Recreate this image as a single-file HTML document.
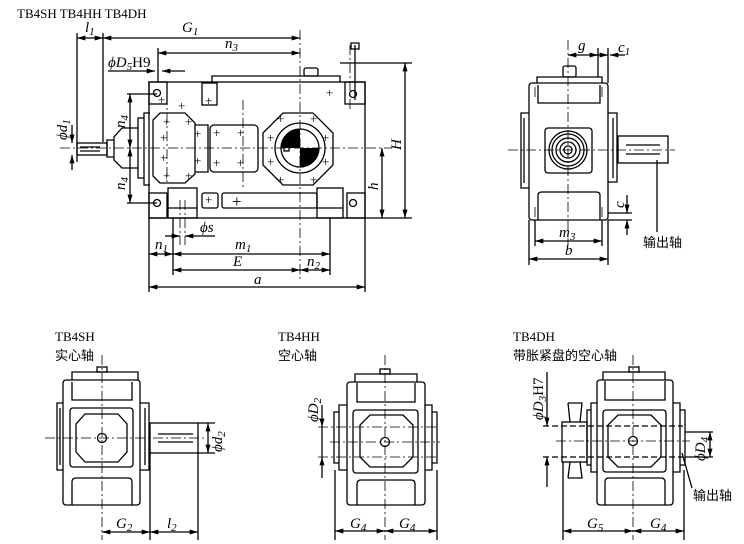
<!DOCTYPE html>
<html><head><meta charset="utf-8"><style>
html,body{margin:0;padding:0;background:#fff}
svg{display:block}
text{font-family:"Liberation Serif","Noto Serif CJK SC",serif;fill:#000}
.d{font-style:italic;font-size:15px}
.t{font-size:13px}
.c{font-family:"Liberation Sans","Noto Sans CJK SC",sans-serif;font-size:13px}
</style></head><body>
<svg width="744" height="544" viewBox="0 0 744 544" xmlns="http://www.w3.org/2000/svg">
<defs>
<marker id="a" viewBox="0 0 10 6" refX="10" refY="3" markerWidth="9" markerHeight="5" orient="auto-start-reverse" markerUnits="userSpaceOnUse"><path d="M0,0L10,3L0,6z" fill="#000"/></marker>
</defs>
<g fill="none" stroke="#000" stroke-width="1.3">
<rect x="149" y="82" width="216" height="136"/>
<path d="M212,82V76H340V82"/>
<rect x="304" y="68" width="14" height="8" rx="2"/>
<path d="M355,45V100M351,43h8v6h-8z"/>
<rect x="202" y="83" width="15" height="22"/>
<rect x="149" y="82" width="18" height="22"/><circle cx="157" cy="93" r="3.5"/>
<rect x="345" y="82" width="20" height="22"/><circle cx="353" cy="94" r="3.5"/>
<rect x="149" y="193" width="18" height="25"/><circle cx="157" cy="203" r="3.5"/>
<rect x="347" y="193" width="18" height="25"/><circle cx="353" cy="203" r="3.5"/>
<path d="M160,113H185L195,123V174L185,183H160L153,176V120Z"/>
<path d="M195,125H208V172H195"/>
<rect x="210" y="125" width="48" height="47" rx="4"/>
<path d="M263,133L283,113H313L333,133V165L313,185H283L263,165Z"/>
<circle cx="300" cy="148" r="25"/><circle cx="300" cy="148" r="19"/>
<rect x="284" y="145" width="5" height="6"/>
<path d="M150,113H144V185H150M144,118H138V178H144"/>
<path d="M138,128H122L114,137V160L122,168H138"/>
<path d="M114,140H107V157H114"/>
<rect x="77" y="143" width="30" height="12"/>
<path d="M80,147H100M80,151H100"/>
<rect x="168" y="188" width="29" height="30"/><path d="M168,208H197"/>
<rect x="202" y="193" width="16" height="15" rx="2"/>
<rect x="222" y="193" width="95" height="15" rx="2"/>
<rect x="317" y="188" width="26" height="30"/><path d="M317,208H343"/>
<path d="M60,148H392M300,30V280M167,95V185M243,100V190M180,200V245M185,200V245M350,45V110" stroke-dasharray="10,3,2,3" stroke-width="0.8"/>
<path d="M77,33V162M103,33V142M158,48V82M340,63H412M365,218H412M127,94H157M127,203H157"/>
<path d="M149,218V292M173,218V275M330,218V275M365,218V292"/>
<path d="M77,38H103" marker-start="url(#a)" marker-end="url(#a)"/>
<path d="M103,38H300" marker-start="url(#a)" marker-end="url(#a)"/>
<path d="M158,53H300" marker-start="url(#a)" marker-end="url(#a)"/>
<path d="M108,71H155" marker-end="url(#a)"/><path d="M185,71H162" marker-end="url(#a)"/>
<path d="M405,63V218" marker-start="url(#a)" marker-end="url(#a)"/>
<path d="M382,148V218" marker-start="url(#a)" marker-end="url(#a)"/>
<path d="M130,94V148" marker-start="url(#a)" marker-end="url(#a)"/>
<path d="M130,148V203" marker-start="url(#a)" marker-end="url(#a)"/>
<path d="M72,125V143" marker-end="url(#a)"/><path d="M72,170V155" marker-end="url(#a)"/>
<path d="M165,236H180" marker-end="url(#a)"/><path d="M215,236H185" marker-end="url(#a)"/>
<path d="M149,254H173" marker-start="url(#a)" marker-end="url(#a)"/>
<path d="M173,254H330" marker-start="url(#a)" marker-end="url(#a)"/>
<path d="M173,270H300" marker-start="url(#a)" marker-end="url(#a)"/>
<path d="M300,270H330" marker-start="url(#a)" marker-end="url(#a)"/>
<path d="M149,287H365" marker-start="url(#a)" marker-end="url(#a)"/>
<rect x="529" y="83" width="79" height="137" rx="3"/>
<path d="M537,83V77H602V83"/><rect x="563" y="66" width="13" height="11" rx="2"/>
<path d="M538,85V103H600V85"/>
<path d="M538,220V195Q538,192 542,192H596Q600,192 600,195V220"/>
<path d="M529,113H521V188H529M524,118V183"/>
<path d="M608,113H617V182H608M613,118V178"/>
<rect x="618" y="136" width="50" height="27"/>
<path d="M626,145H660M626,154H660"/>
<rect x="545" y="128" width="47" height="45" rx="3"/>
<circle cx="568" cy="150" r="4"/><circle cx="568" cy="150" r="8"/><circle cx="568" cy="150" r="12"/><circle cx="568" cy="150" r="16"/><circle cx="568" cy="150" r="19"/>
<path d="M568,40V245M508,150H675M535,87V100M602,87V100M535,207V218M602,207V218" stroke-dasharray="10,3,2,3" stroke-width="0.8"/>
<path d="M598,48V77M608,48V83M529,220V265M608,220V265M535,220V246M602,220V246M608,213H632M608,220H632M657,160V232"/>
<path d="M568,55H598" marker-start="url(#a)" marker-end="url(#a)"/>
<path d="M595,55H608" marker-end="url(#a)"/><path d="M625,55H610" marker-end="url(#a)"/>
<path d="M627,195V213" marker-end="url(#a)"/><path d="M627,235V220" marker-end="url(#a)"/>
<path d="M535,241H602" marker-start="url(#a)" marker-end="url(#a)"/>
<path d="M529,259H608" marker-start="url(#a)" marker-end="url(#a)"/>
<rect x="63" y="380" width="77" height="125" rx="3"/>
<path d="M72,380V372H138V380"/><rect x="97" y="367" width="10" height="5"/>
<path d="M72,382V400H132V382M72,505V482Q72,478 76,478H128Q132,478 132,482V505"/>
<path d="M63,403H57V470H63M60,408V465M140,403H149V470H140M145,408V465"/>
<rect x="70" y="408" width="63" height="59" rx="3"/>
<path d="M85,414H118L127,424V452L118,462H85L76,452V424Z"/>
<circle cx="102" cy="438" r="4.5"/>
<rect x="150" y="423" width="48" height="30"/>
<path d="M158,434H193M158,442H193"/>
<path d="M102,355V540M45,438H205" stroke-dasharray="10,3,2,3" stroke-width="0.8"/>
<path d="M150,453V540M198,453V540M198,423H215M198,453H215"/>
<path d="M102,532H150" marker-start="url(#a)" marker-end="url(#a)"/>
<path d="M150,532H198" marker-start="url(#a)" marker-end="url(#a)"/>
<path d="M208,423V453" marker-start="url(#a)" marker-end="url(#a)"/>
<rect x="347" y="382" width="78" height="123" rx="3"/>
<path d="M355,382V374H417V382"/><rect x="380" y="369" width="10" height="5"/>
<path d="M357,383V402H415V383M357,505V484Q357,480 361,480H411Q415,480 415,484V505"/>
<path d="M347,405H339V470H347M339,412H334V463H339M425,405H432V470H425M432,412H437V463H432"/>
<rect x="353" y="410" width="65" height="63" rx="3"/>
<path d="M370,415H403L413,425V457L403,467H370L360,457V425Z"/>
<circle cx="385" cy="442" r="4.5"/>
<path d="M318,427H438M318,457H438M385,355V540M330,442H440" stroke-dasharray="10,3,2,3" stroke-width="0.8"/>
<path d="M335,470V540M437,470V540"/>
<path d="M322,405V427" marker-end="url(#a)"/><path d="M322,478V457" marker-end="url(#a)"/>
<path d="M322,427V457"/>
<path d="M335,531H385" marker-start="url(#a)" marker-end="url(#a)"/>
<path d="M385,531H437" marker-start="url(#a)" marker-end="url(#a)"/>
<rect x="597" y="380" width="76" height="125" rx="3"/>
<path d="M603,380V372H665V380"/><rect x="629" y="367" width="10" height="5"/>
<path d="M605,381V400H665V381M605,505V482Q605,478 609,478H661Q665,478 665,482V505"/>
<path d="M597,403H591V472H597M591,410H587V465H591M673,403H680V472H673M680,410H685V465H680"/>
<rect x="603" y="410" width="63" height="62" rx="3"/>
<path d="M618,415H651L661,425V457L651,467H618L608,457V425Z"/>
<circle cx="633" cy="441" r="4.5"/>
<rect x="562" y="422" width="25" height="40"/>
<path d="M568,403H582L580,422M568,403L570,422M568,478H582L580,462M568,478L570,462"/>
<path d="M543,426H683M543,457H683" stroke-dasharray="6,3"/>
<path d="M633,355V540M556,441H690" stroke-dasharray="10,3,2,3" stroke-width="0.8"/>
<path d="M563,462V540M684,470V540M685,432H713M685,457H713M682,453L692,488"/>
<path d="M547,372V426" marker-end="url(#a)"/><path d="M547,487V457" marker-end="url(#a)"/>
<path d="M710,432V457" marker-start="url(#a)" marker-end="url(#a)"/>
<path d="M563,531H633" marker-start="url(#a)" marker-end="url(#a)"/>
<path d="M633,531H684" marker-start="url(#a)" marker-end="url(#a)"/>
</g>
<path d="M300,148V129A19,19 0 0,0 281,148Z" fill="#000"/>
<path d="M300,148V167A19,19 0 0,0 319,148Z" fill="#000"/>
<g font-size="13" font-family="Liberation Sans">
<text x="158" y="104">+</text><text x="178" y="110">+</text><text x="163" y="126">+</text><text x="185" y="126">+</text>
<text x="160" y="142">+</text><text x="160" y="162">+</text><text x="163" y="180">+</text><text x="185" y="180">+</text>
<text x="194" y="138">+</text><text x="194" y="165">+</text><text x="213" y="137">+</text><text x="237" y="137">+</text>
<text x="213" y="167">+</text><text x="237" y="167">+</text><text x="267" y="142">+</text><text x="322" y="142">+</text>
<text x="277" y="123">+</text><text x="310" y="123">+</text><text x="267" y="166">+</text><text x="322" y="166">+</text>
<text x="277" y="184">+</text><text x="310" y="184">+</text><text x="326" y="97">+</text><text x="205" y="105">+</text>
<text x="205" y="204">+</text><text x="232" y="207" font-size="17">+</text>
</g>
<text class="t" x="17" y="18">TB4SH TB4HH TB4DH</text>
<text class="d" x="85" y="32">l<tspan font-size="11" dy="3">1</tspan></text>
<text class="d" x="182" y="32">G<tspan font-size="11" dy="3">1</tspan></text>
<text class="d" x="225" y="48">n<tspan font-size="11" dy="3">3</tspan></text>
<text class="d" x="108" y="67">ϕD<tspan font-size="11" dy="3">5</tspan><tspan dy="-3" font-style="normal">H9</tspan></text>
<text class="d" transform="translate(67,140) rotate(-90)">ϕd<tspan font-size="11" dy="3">1</tspan></text>
<text class="d" transform="translate(125,128) rotate(-90)">n<tspan font-size="11" dy="3">4</tspan></text>
<text class="d" transform="translate(125,190) rotate(-90)">n<tspan font-size="11" dy="3">4</tspan></text>
<text class="d" transform="translate(401,150) rotate(-90)">H</text>
<text class="d" transform="translate(378,190) rotate(-90)">h</text>
<text class="d" x="200" y="232">ϕs</text>
<text class="d" x="155" y="249">n<tspan font-size="11" dy="3">1</tspan></text>
<text class="d" x="235" y="249">m<tspan font-size="11" dy="3">1</tspan></text>
<text class="d" x="233" y="266">E</text>
<text class="d" x="307" y="266">n<tspan font-size="11" dy="3">2</tspan></text>
<text class="d" x="254" y="284">a</text>
<text class="d" x="578" y="50">g</text>
<text class="d" x="618" y="52">c<tspan font-size="11" dy="3">1</tspan></text>
<text class="d" transform="translate(624,208) rotate(-90)">c</text>
<text class="d" x="559" y="237">m<tspan font-size="11" dy="3">3</tspan></text>
<text class="d" x="565" y="255">b</text>
<text class="c" x="643" y="247">输出轴</text>
<text class="t" x="55" y="341">TB4SH</text><text class="c" x="55" y="360">实心轴</text>
<text class="t" x="278" y="341">TB4HH</text><text class="c" x="278" y="360">空心轴</text>
<text class="t" x="513" y="341">TB4DH</text><text class="c" x="513" y="360">带胀紧盘的空心轴</text>
<text class="d" x="116" y="528">G<tspan font-size="11" dy="3">2</tspan></text>
<text class="d" x="167" y="528">l<tspan font-size="11" dy="3">2</tspan></text>
<text class="d" transform="translate(222,452) rotate(-90)">ϕd<tspan font-size="11" dy="3">2</tspan></text>
<text class="d" transform="translate(318,422) rotate(-90)">ϕD<tspan font-size="11" dy="3">2</tspan></text>
<text class="d" x="350" y="528">G<tspan font-size="11" dy="3">4</tspan></text>
<text class="d" x="399" y="528">G<tspan font-size="11" dy="3">4</tspan></text>
<text class="d" transform="translate(543,420) rotate(-90)">ϕD<tspan font-size="11" dy="3">3</tspan><tspan dy="-3" font-style="normal">H7</tspan></text>
<text class="d" transform="translate(705,461) rotate(-90)">ϕD<tspan font-size="11" dy="3">4</tspan></text>
<text class="c" x="693" y="500">输出轴</text>
<text class="d" x="587" y="528">G<tspan font-size="11" dy="3">5</tspan></text>
<text class="d" x="650" y="528">G<tspan font-size="11" dy="3">4</tspan></text>
</svg>
</body></html>
